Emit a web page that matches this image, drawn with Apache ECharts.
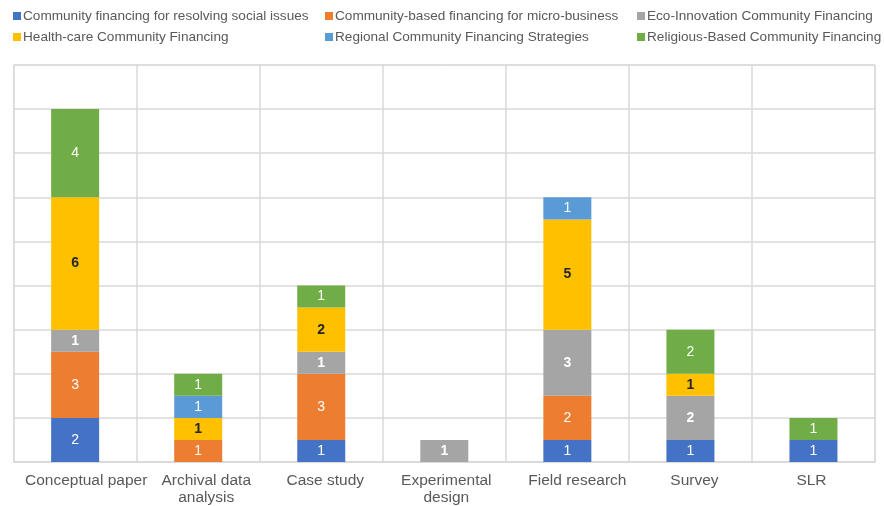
<!DOCTYPE html>
<html>
<head>
<meta charset="utf-8">
<script src="https://cdn.jsdelivr.net/npm/echarts@6/dist/echarts.min.js"></script>
<style>html,body{margin:0;padding:0;background:#fff}#c{width:884px;height:506px}</style>
</head>
<body>
<div id="c"></div>
<script>
const categories = ['Conceptual paper', 'Archival data\nanalysis', 'Case study', 'Experimental\ndesign', 'Field research', 'Survey', 'SLR'];
const seriesNames = [
  'Community financing for resolving social issues',
  'Community-based financing for micro-business',
  'Eco-Innovation Community Financing',
  'Health-care Community Financing',
  'Regional Community Financing Strategies',
  'Religious-Based Community Financing'
];
const socialIssues = [2, 0, 1, 0, 1, 1, 1];
const microBusiness = [3, 1, 3, 0, 2, 0, 0];
const ecoInnovation = [1, 0, 1, 1, 3, 2, 0];
const healthCare = [6, 1, 2, 0, 5, 1, 0];
const regional = [0, 1, 0, 0, 1, 0, 0];
const religious = [4, 1, 1, 0, 0, 2, 1];
const yTicks = {min: 0, max: 18, interval: 2};

// small horizontal nudges of the category labels (style only)
const labelShift = [11, 8, 4, 2, 10, 4, -2];

const values = [socialIssues, microBusiness, ecoInnovation, healthCare, regional, religious];
const colors = ['#4472C4', '#ED7D31', '#A5A5A5', '#FFC000', '#5B9BD5', '#70AD47'];
const labelStyles = [
  {color: '#fff', fontWeight: 'normal'},
  {color: '#fff', fontWeight: 'normal'},
  {color: '#fff', fontWeight: 'bold'},
  {color: '#262626', fontWeight: 'bold'},
  {color: '#fff', fontWeight: 'normal'},
  {color: '#fff', fontWeight: 'normal'}
];
const font = '"Liberation Sans", Arial, sans-serif';

const chart = echarts.init(document.getElementById('c'));
const legendCols = [0, 1, 2].map(i => ({
  orient: 'vertical',
  left: 8 + i * 312,
  top: 4,
  itemGap: 7,
  itemWidth: 8,
  itemHeight: 8,
  icon: 'rect',
  selectedMode: false,
  textStyle: {color: '#595959', fontSize: 13.6, fontFamily: font, padding: [0, 0, 0, -3]},
  data: [seriesNames[i], seriesNames[i + 3]]
}));

const xData = categories.map((c, i) => {
  const s = labelShift[i];
  return {
    value: c,
    textStyle: {padding: s >= 0 ? [0, 0, 0, 2 * s] : [0, -2 * s, 0, 0]}
  };
});

chart.setOption({
  animation: false,
  legend: legendCols,
  grid: {left: 13, right: 9, top: 65, bottom: 42, show: true, borderColor: '#d9d9d9', borderWidth: 1},
  xAxis: {
    type: 'category',
    data: xData,
    axisLine: {show: true, lineStyle: {color: '#d9d9d9', width: 1.5}},
    axisTick: {show: false},
    splitLine: {show: true, lineStyle: {color: '#d9d9d9', width: 1.5}},
    axisLabel: {color: '#595959', fontSize: 15.5, fontFamily: font, margin: 10, lineHeight: 17, interval: 0}
  },
  yAxis: {
    type: 'value',
    min: yTicks.min, max: yTicks.max, interval: yTicks.interval,
    axisLabel: {show: false},
    axisLine: {show: false},
    axisTick: {show: false},
    splitLine: {show: true, lineStyle: {color: '#d9d9d9', width: 1.5}}
  },
  series: seriesNames.map((name, i) => ({
    name: name,
    type: 'bar',
    stack: 'total',
    barWidth: '39%',
    data: values[i],
    itemStyle: {color: colors[i]},
    label: {
      show: true,
      position: 'inside',
      fontSize: 14,
      fontFamily: font,
      color: labelStyles[i].color,
      fontWeight: labelStyles[i].fontWeight,
      formatter: p => (p.value ? String(p.value) : '')
    }
  }))
});
</script>
</body>
</html>
